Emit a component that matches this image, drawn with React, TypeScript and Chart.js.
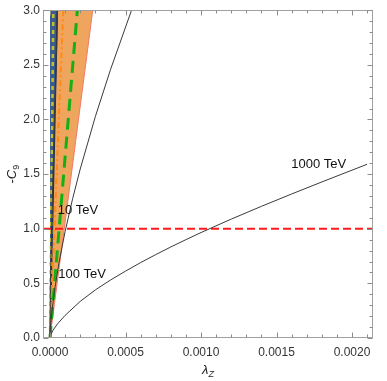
import React, { useEffect, useRef } from "react";
import { Chart, registerables } from "chart.js";

Chart.register(...registerables);

// ---- axis ranges & ticks ----
const X_MIN = -0.0000464;
const X_MAX = 0.002139;
const Y_MIN = 0;
const Y_MAX = 3.0;
const X_TICKS = [0, 0.0005, 0.001, 0.0015, 0.002];
const Y_TICKS = [0, 0.5, 1.0, 1.5, 2.0, 2.5, 3.0];
const X_MINOR_STEP = 0.0001;
const Y_MINOR_STEP = 0.1;

// ---- curves (lambda_Z, -C9) ----
const TEV10_X = [0, 0.0000002, 0.000001, 0.000003, 0.00001, 0.00002, 0.00003, 0.00004, 0.00005];
const TEV10_Y = [0, 0.071, 0.207, 0.43, 0.959, 1.52, 1.99, 2.45, 3.0];

const TEV100_X = [0, 0.000002, 0.00001, 0.00003, 0.00006, 0.0001, 0.00015, 0.0002, 0.0003, 0.0004, 0.00054];
const TEV100_Y = [0, 0.072, 0.21, 0.436, 0.693, 0.974, 1.276, 1.546, 2.025, 2.454, 3.0];

const TEV1000_X = [0, 0.000005, 0.00002, 0.00005, 0.0001, 0.0002, 0.0003, 0.0004, 0.0005, 0.0006, 0.0007, 0.0008, 0.0009, 0.001, 0.0012, 0.0014, 0.0016, 0.0018, 0.0021];
const TEV1000_Y = [0, 0.028, 0.071, 0.13, 0.207, 0.335, 0.44, 0.53, 0.612, 0.69, 0.763, 0.833, 0.9, 0.965, 1.088, 1.205, 1.318, 1.428, 1.59];

// ---- wedge bands & lines through origin (x at -C9 = 3) ----
const BLUE_EDGE_X = [0, 0.0000483];
const ORANGE_EDGE_X = [0, 0.000283];
const YELLOW_X = [0, 0.000022];
const ORANGE_DD_X = [0, 0.000088];
const GREEN_X = [0, 0.000181];
const WEDGE_Y = [0, 3.0];

// ---- horizontal reference ----
const REF_C9 = 1.0;

// ---- curve labels ----
const LABEL_TEXT = ["10 TeV", "100 TeV", "1000 TeV"];
const LABEL_X = [0.000185, 0.000212, 0.00178];
const LABEL_Y = [1.17, 0.58, 1.59];

const FONT = "'Liberation Sans', Arial, sans-serif";

const pts = (xs: number[], ys: number[]) => xs.map((x, i) => ({ x, y: ys[i] }));

const framePlugin = {
  id: "mmaFrame",
  afterDatasetsDraw(chart: any) {
    const { ctx, chartArea: a, scales } = chart;
    const xs = scales.x;
    const ys = scales.y;
    ctx.save();
    // curve labels
    ctx.fillStyle = "#111";
    ctx.font = `13px ${FONT}`;
    ctx.textAlign = "center";
    ctx.textBaseline = "middle";
    LABEL_TEXT.forEach((t, i) => {
      ctx.fillText(t, xs.getPixelForValue(LABEL_X[i]), ys.getPixelForValue(LABEL_Y[i]));
    });
    // frame
    const L = Math.round(a.left) + 0.5;
    const R = Math.round(a.right) - 0.5;
    const T = Math.round(a.top) + 0.5;
    const B = Math.round(a.bottom) - 0.5;
    ctx.strokeStyle = "#a0a0a0";
    ctx.lineWidth = 1;
    ctx.strokeRect(L, T, R - L, B - T);
    // ticks
    ctx.strokeStyle = "#8c8c8c";
    ctx.beginPath();
    for (let k = 0; k * X_MINOR_STEP <= X_MAX; k++) {
      const v = k * X_MINOR_STEP;
      const major = k % 5 === 0;
      const len = major ? 5 : 3;
      const px = Math.round(xs.getPixelForValue(v)) + 0.5;
      ctx.moveTo(px, B);
      ctx.lineTo(px, B - len);
      ctx.moveTo(px, T);
      ctx.lineTo(px, T + len);
    }
    for (let k = 0; k * Y_MINOR_STEP <= Y_MAX + 1e-9; k++) {
      const v = k * Y_MINOR_STEP;
      const major = k % 5 === 0;
      const len = major ? 5 : 3;
      const py = Math.round(ys.getPixelForValue(v)) + 0.5;
      ctx.moveTo(L, py);
      ctx.lineTo(L + len, py);
      ctx.moveTo(R, py);
      ctx.lineTo(R - len, py);
    }
    ctx.stroke();
    ctx.restore();
  },
  afterDraw(chart: any) {
    const { ctx, chartArea: a } = chart;
    ctx.save();
    ctx.fillStyle = "#222";
    ctx.textBaseline = "alphabetic";
    // y title: -C_9
    {
      ctx.translate(16, (a.top + a.bottom) / 2);
      ctx.rotate(-Math.PI / 2);
      const f1 = `13px ${FONT}`;
      const f2 = `italic 13px ${FONT}`;
      const f3 = `9px ${FONT}`;
      ctx.font = f1; const w1 = ctx.measureText("-").width;
      ctx.font = f2; const w2 = ctx.measureText("C").width;
      ctx.font = f3; const w3 = ctx.measureText("9").width;
      let x = -(w1 + w2 + w3) / 2;
      ctx.textAlign = "left";
      ctx.font = f1; ctx.fillText("-", x, 0); x += w1;
      ctx.font = f2; ctx.fillText("C", x, 0); x += w2;
      ctx.font = f3; ctx.fillText("9", x, 3);
      ctx.setTransform(1, 0, 0, 1, 0, 0);
    }
    // x title: lambda_Z
    {
      const cx = (a.left + a.right) / 2;
      const by = 376;
      const f2 = `italic 13px ${FONT}`;
      const f3 = `italic 9px ${FONT}`;
      ctx.font = f2; const w1 = ctx.measureText("λ").width;
      ctx.font = f3; const w2 = ctx.measureText("Z").width;
      let x = cx - (w1 + w2) / 2;
      ctx.textAlign = "left";
      ctx.font = f2; ctx.fillText("λ", x, by - 2); x += w1;
      ctx.font = f3; ctx.fillText("Z", x, by + 1);
    }
    ctx.restore();
  },
};

export default function App() {
  const ref = useRef<HTMLCanvasElement | null>(null);
  useEffect(() => {
    if (!ref.current) return;
    const common = { pointRadius: 0, pointHoverRadius: 0, tension: 0 };
    const chart = new Chart(ref.current, {
      type: "line",
      data: {
        datasets: [
          {
            label: "ref",
            data: [{ x: X_MIN, y: REF_C9 }, { x: X_MAX, y: REF_C9 }],
            borderColor: "#ff1a1a",
            borderWidth: 2,
            borderDash: [8, 4],
            fill: false,
            order: 1,
            ...common,
          },
          {
            label: "10 TeV",
            data: pts(TEV10_X, TEV10_Y),
            borderColor: "#3a3a3a",
            borderWidth: 1,
            fill: false,
            order: 2,
            ...common,
          },
          {
            label: "100 TeV",
            data: pts(TEV100_X, TEV100_Y),
            borderColor: "#3a3a3a",
            borderWidth: 1,
            fill: false,
            order: 2,
            ...common,
          },
          {
            label: "1000 TeV",
            data: pts(TEV1000_X, TEV1000_Y),
            borderColor: "#3a3a3a",
            borderWidth: 1,
            fill: false,
            order: 2,
            ...common,
          },
          {
            label: "green",
            data: pts(GREEN_X, WEDGE_Y),
            borderColor: "#14b014",
            borderWidth: 3,
            borderDash: [12, 7],
            fill: false,
            order: 3,
            ...common,
          },
          {
            label: "orange dd",
            data: pts(ORANGE_DD_X, WEDGE_Y),
            borderColor: "#ff8a14",
            borderWidth: 2,
            borderDash: [6, 3, 2, 3],
            fill: false,
            order: 3,
            ...common,
          },
          {
            label: "yellow",
            data: pts(YELLOW_X, WEDGE_Y),
            borderColor: "#c4bd2e",
            borderWidth: 2.5,
            borderDash: [4, 4],
            fill: false,
            order: 3,
            ...common,
          },
          {
            label: "blue band",
            data: pts(BLUE_EDGE_X, WEDGE_Y),
            borderColor: "#1f2f55",
            backgroundColor: "#3a5d8c",
            borderWidth: 1.5,
            fill: "end",
            order: 4,
            ...common,
          },
          {
            label: "orange band",
            data: pts(ORANGE_EDGE_X, WEDGE_Y),
            borderColor: "#f27a6a",
            backgroundColor: "#efa55e",
            borderWidth: 1,
            fill: "end",
            order: 5,
            ...common,
          },
        ],
      },
      options: {
        animation: false,
        responsive: true,
        maintainAspectRatio: false,
        parsing: true,
        layout: { padding: { top: 7.5, right: 14, left: 0, bottom: 0 } },
        plugins: {
          legend: { display: false },
          tooltip: { enabled: false },
        },
        scales: {
          x: {
            type: "linear",
            min: X_MIN,
            max: X_MAX,
            grid: { display: false, drawTicks: false },
            border: { display: false },
            ticks: {
              padding: 7,
              color: "#333",
              font: { family: FONT, size: 12 },
              autoSkip: false,
              maxRotation: 0,
              callback: (v: any) => Number(v).toFixed(4),
            },
            afterBuildTicks: (s: any) => {
              s.ticks = X_TICKS.map((v) => ({ value: v }));
            },
            afterFit: (s: any) => {
              s.height = 43;
            },
          },
          y: {
            type: "linear",
            min: Y_MIN,
            max: Y_MAX,
            grid: { display: false, drawTicks: false },
            border: { display: false },
            ticks: {
              padding: 3,
              color: "#333",
              font: { family: FONT, size: 12 },
              autoSkip: false,
              callback: (v: any) => Number(v).toFixed(1),
            },
            afterBuildTicks: (s: any) => {
              s.ticks = Y_TICKS.map((v) => ({ value: v }));
            },
            afterFit: (s: any) => {
              s.width = 43;
            },
          },
        },
      },
      plugins: [framePlugin],
    } as any);
    return () => chart.destroy();
  }, []);
  return (
    <div style={{ position: "fixed", left: 0, top: 0, width: 387, height: 381, background: "#fff" }}>
      <canvas ref={ref} />
    </div>
  );
}
